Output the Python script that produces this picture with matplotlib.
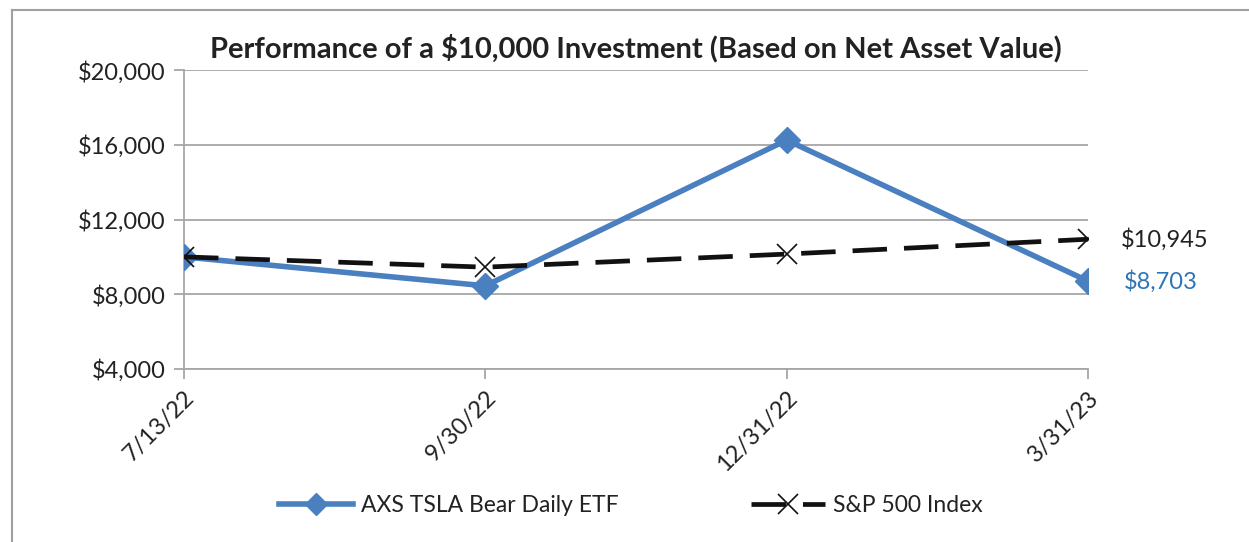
import matplotlib

matplotlib.use("Agg")
import matplotlib.pyplot as plt
from matplotlib.lines import Line2D
import numpy as np

plt.rcParams["font.family"] = ["Lato", "DejaVu Sans"]

dates = ["7/13/22", "9/30/22", "12/31/22", "3/31/23"]
axs_tsla = [10000, 8450, 16250, 8703]
sp500 = [10000, 9450, 10150, 10945]
y_ticks = [4000, 8000, 12000, 16000, 20000]

BLUE = "#4A7FC0"
LABEL_BLUE = "#2E75B6"
GRID = "#A6A6A6"
TEXT = "#222222"
SP_DASH = (7.3, 3.6)

fig = plt.figure(figsize=(12.49, 5.42), dpi=100)
ax = fig.add_axes([0.1473, 0.3192, 0.8711 - 0.1473, 0.8708 - 0.3192])

x = np.arange(len(dates))
ax.plot(x, axs_tsla, color=BLUE, linewidth=4.0, marker="D", markersize=13,
        zorder=3, label="AXS TSLA Bear Daily ETF")
ax.plot(x, sp500, color="#111111", linewidth=3.4, dashes=SP_DASH,
        marker="x", markersize=15, markeredgewidth=1.2, zorder=4,
        label="S&P 500 Index")

ax.set_xlim(x[0], x[-1])
ax.set_ylim(4000, 20000)
ax.set_yticks(y_ticks)
ax.set_yticklabels([f"${v:,.0f}" for v in y_ticks])
ax.set_xticks(x)
ax.set_xticklabels(dates, rotation=45, ha="right", va="top",
                   rotation_mode="anchor")

ax.grid(axis="y", color=GRID, linewidth=1.3)
ax.set_axisbelow(True)
for side in ("top", "right"):
    ax.spines[side].set_visible(False)
for side in ("left", "bottom"):
    ax.spines[side].set_color(GRID)
    ax.spines[side].set_linewidth(1.3)
ax.tick_params(axis="both", color=GRID, width=1.3, length=7, labelsize=17,
               labelcolor=TEXT)
ax.tick_params(axis="x", pad=6)
ax.tick_params(axis="y", pad=6)

ax.set_title("Performance of a $10,000 Investment (Based on Net Asset Value)",
             fontsize=21, fontweight="bold", color=TEXT, pad=9)

# end-of-line value labels
ax.annotate(f"${sp500[-1]:,.0f}", (x[-1], sp500[-1]), xytext=(24, 0),
            textcoords="offset points", va="center", fontsize=17, color=TEXT,
            annotation_clip=False)
ax.annotate(f"${axs_tsla[-1]:,.0f}", (x[-1], axs_tsla[-1]), xytext=(26, 0),
            textcoords="offset points", va="center", fontsize=17,
            color=LABEL_BLUE, annotation_clip=False)

handles = [
    Line2D([], [], color=BLUE, linewidth=4.0, marker="D", markersize=11),
    Line2D([], [], color="#111111", linewidth=3.4, dashes=SP_DASH,
           marker="x", markersize=14, markeredgewidth=1.2),
]
fig.legend(handles, ["AXS TSLA Bear Daily ETF", "S&P 500 Index"],
           loc="center", bbox_to_anchor=(0.505, 0.068), ncol=2, frameon=False,
           fontsize=16.5, handlelength=3.2, columnspacing=5.8, handletextpad=0.35,
           labelcolor=TEXT)

# outer chart frame (top and left edges visible in the crop)
fig.add_artist(Line2D([12 / 1249, 1.0], [1 - 10 / 542, 1 - 10 / 542],
                      transform=fig.transFigure, color="#A0A0A0", linewidth=1.5))
fig.add_artist(Line2D([12 / 1249, 12 / 1249], [0.0, 1 - 10 / 542],
                      transform=fig.transFigure, color="#A0A0A0", linewidth=1.5))

fig.savefig("out.png", dpi=100)
